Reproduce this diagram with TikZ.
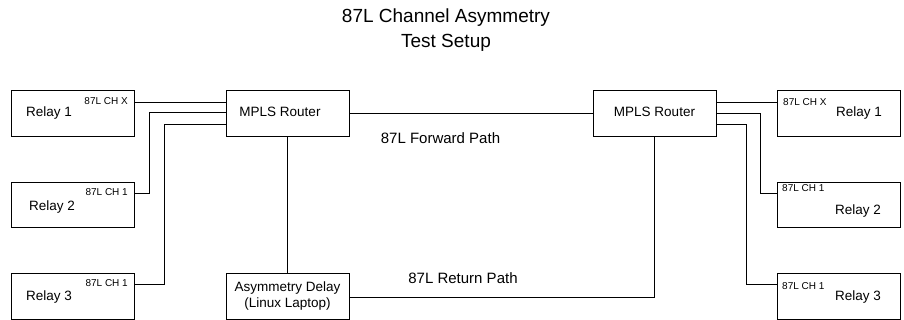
\documentclass[tikz,border=0pt]{standalone}
\usepackage{fontspec}
\setmainfont{Liberation Sans}
\begin{document}
\begin{tikzpicture}[x=1pt,y=-1pt,
  box/.style={draw, line width=0.9pt, minimum width=123pt, minimum height=46pt, inner sep=0pt},
  body/.style={font=\fontsize{13.5}{16}\selectfont},
  port/.style={font=\fontsize{10}{12}\selectfont, inner sep=0pt},
  path label/.style={font=\fontsize{15}{18}\selectfont, inner sep=0pt},
  wire/.style={line width=0.9pt}]
\useasboundingbox (0,0) rectangle (904,320);

% title
\node[font=\fontsize{19}{25}\selectfont, align=center, inner sep=0pt] (title) at (446,30.5)
  {87L Channel Asymmetry\\Test Setup};

% routers and delay box (shifts are in page direction: positive = up)
\node[box, label={[body, xshift=-7.5pt, yshift=1pt]center:MPLS Router}] (lrt) at (287.5,113) {};
\node[box, label={[body, yshift=1pt]center:MPLS Router}] (rrt) at (654.5,113) {};
\node[box, body, align=center] (asym) at (287.5,296) {Asymmetry Delay\\(Linux Laptop)};

% left relays
\node[box, label={[body, anchor=west, xshift=12pt]west:Relay 1}] (lr1) at (72.5,113) {};
\node[box, minimum height=45pt, label={[body, anchor=west, xshift=15pt, yshift=-2.5pt]west:Relay 2}] (lr2) at (72.5,204.5) {};
\node[box, label={[body, anchor=west, xshift=12pt, yshift=-1pt]west:Relay 3}] (lr3) at (72.5,296) {};

% right relays
\node[box, label={[body, anchor=east, xshift=-15pt]east:Relay 1}] (rr1) at (838.5,113) {};
\node[box, minimum height=45pt, label={[body, anchor=east, xshift=-16pt, yshift=-6.5pt]east:Relay 2}] (rr2) at (838.5,204.5) {};
\node[box, label={[body, anchor=east, xshift=-16pt, yshift=-1pt]east:Relay 3}] (rr3) at (838.5,296) {};

% channel labels
\node[port, anchor=east] (lp1) at (128,101.5) {87L CH X};
\node[port, anchor=east] (lp2) at (128,192.5) {87L CH 1};
\node[port, anchor=east] (lp3) at (128,283.5) {87L CH 1};
\node[port, anchor=west] (rp1) at (783,102.5) {87L CH X};
\node[port, anchor=west] (rp2) at (782,188.5) {87L CH 1};
\node[port, anchor=west] (rp3) at (782,286.5) {87L CH 1};

% left side wiring
\draw[wire] (lr1.east |- 0,102) -- ([yshift=11pt]lrt.west);
\draw[wire] (lr2.east |- 0,193) -- ++(15,0) |- ([yshift=1pt]lrt.west);
\draw[wire] (lr3.east |- 0,284) -- ++(30,0) |- ([yshift=-11pt]lrt.west);

% right side wiring
\draw[wire] (rr1.west |- 0,102) -- ([yshift=11pt]rrt.east);
\draw[wire] (rr2.west |- 0,193) -- ++(-16,0) |- (rrt.east);
\draw[wire] (rr3.west |- 0,284) -- ++(-30,0) |- ([yshift=-11pt]rrt.east);

% forward and return paths
\draw[wire] (lrt.east) -- (rrt.west);
\draw[wire] (lrt.south) -- (asym.north);
\draw[wire] ([yshift=-1pt]asym.east) -| (rrt.south);
\node[path label] (fwd) at (440.5,138) {87L Forward Path};
\node[path label] (ret) at (463,278) {87L Return Path};
\end{tikzpicture}
\end{document}
